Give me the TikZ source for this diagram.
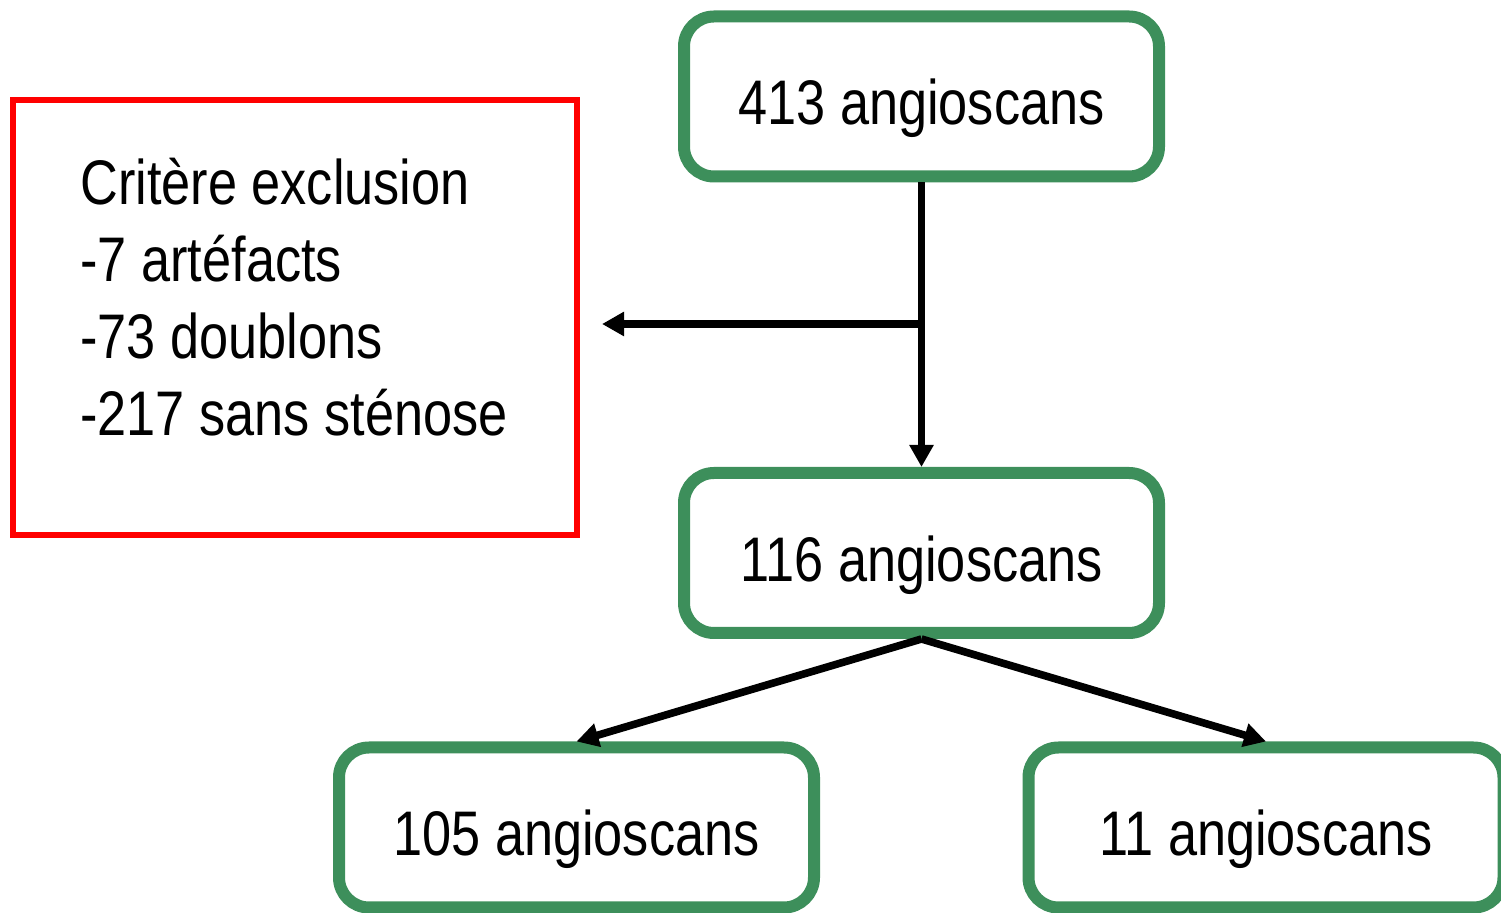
\documentclass[tikz,border=0pt]{standalone}
\usepackage{fontspec}
\setmainfont{Liberation Sans}[FakeStretch=0.83]
\usetikzlibrary{arrows.meta}
\definecolor{boxgreen}{RGB}{61,143,91}
\tikzset{
  countbox/.style={
    draw=boxgreen,line width=6pt,rounded corners=15pt,
    minimum width=237.5pt,minimum height=80pt,inner sep=0pt,
    text height=28.5pt,text depth=0pt,
    font=\fontsize{31.5pt}{38.5pt}\selectfont
  },
  exclbox/.style={
    draw=red,line width=3pt,minimum width=282pt,minimum height=217.5pt,inner sep=0pt
  },
  flow/.style={
    line width=3.8pt,-{Triangle[length=11pt,width=11.5pt]}
  }
}
\begin{document}
\begin{tikzpicture}[x=0.5pt,y=-0.5pt]
\useasboundingbox (0,0) rectangle (1501,913);
\node[countbox] (total) at (921.5,96.5) {413 angioscans};
\node[countbox] (kept) at (921.5,553) {116 angioscans};
\node[countbox] (left) at (576.5,827.5) {105 angioscans};
\node[countbox] (right) at (1266,827.5) {11 angioscans};
\node[exclbox] (excl) at (295,317.5) {};
\node[anchor=north west,align=left,inner sep=0pt,
  font=\fontsize{31.5pt}{38.5pt}\selectfont] (crit) at (80,158)
  {Critère exclusion\\-7 artéfacts\\-73 doublons\\-217 sans sténose};
\coordinate (split) at (921.5,324);
\coordinate (excltip) at (602,324);
% arrows
\draw[flow] (total.south) -- (kept.north);
\draw[flow] (split) -- (excltip);
\draw[flow] (kept.south) -- (left.north);
\draw[flow] (kept.south) -- (right.north);
\end{tikzpicture}
\end{document}
